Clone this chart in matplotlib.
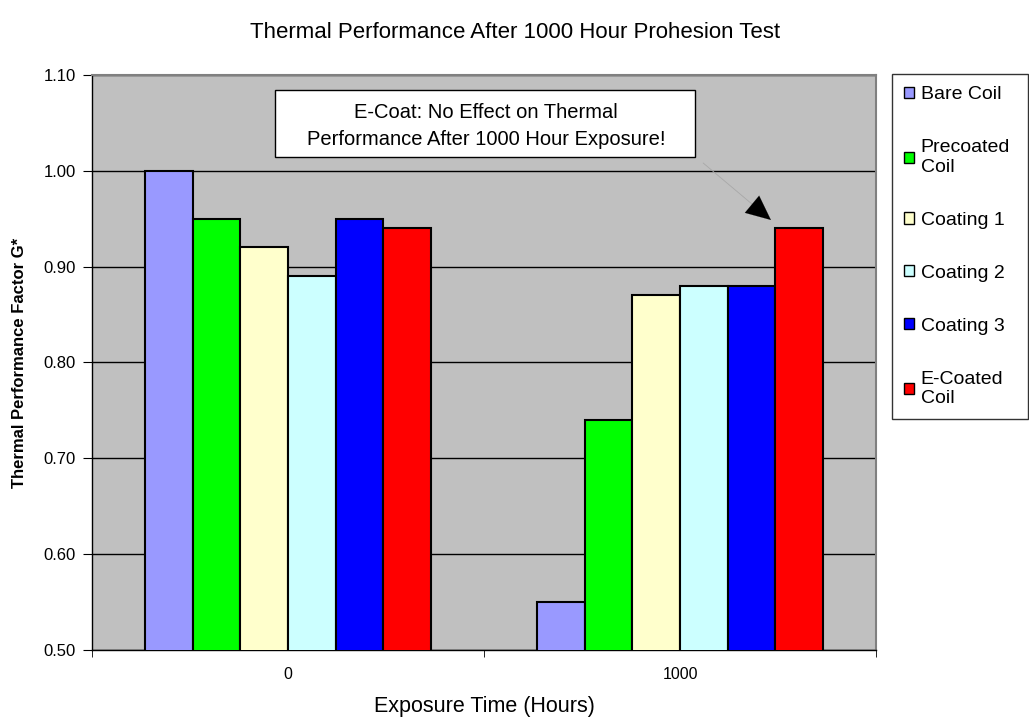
import matplotlib
matplotlib.use("Agg")
import matplotlib.pyplot as plt
from matplotlib.patches import Rectangle
import numpy as np

plt.rcParams['font.family'] = ['Liberation Sans', 'DejaVu Sans']

categories = ["0", "1000"]
series_names = ["Bare Coil", "Precoated\nCoil", "Coating 1", "Coating 2", "Coating 3", "E-Coated\nCoil"]
values = [
    [1.00, 0.55],
    [0.95, 0.74],
    [0.92, 0.87],
    [0.89, 0.88],
    [0.95, 0.88],
    [0.94, 0.94],
]
colors = ["#9999ff", "#00ff00", "#ffffcc", "#ccffff", "#0000ff", "#ff0000"]
yticks = [0.50, 0.60, 0.70, 0.80, 0.90, 1.00, 1.10]

fig = plt.figure(figsize=(10.29, 7.21), dpi=100)
ax = fig.add_axes([92/1029, 1-650/721, (876-92)/1029, (650-75)/721])
ax.set_facecolor("#c0c0c0")

n = len(series_names)
bw = 0.73 / n
x = np.arange(len(categories))
for i in range(n):
    ax.bar(x - 0.365 + bw*(i+0.5), values[i], width=bw, color=colors[i],
           edgecolor="black", linewidth=1.5, label=series_names[i], zorder=3)

ax.set_xlim(-0.5, 1.5)
ax.set_ylim(0.5, 1.1)
ax.set_yticks(yticks)
ax.set_yticklabels([f"{v:.2f}" for v in yticks], fontsize=12)
ax.yaxis.grid(True, color="black", linewidth=1, zorder=1)
ax.set_axisbelow(True)
ax.set_xticks(x)
ax.set_xticklabels(categories, fontsize=11.5)
ax.set_xticks([-0.5, 0.5, 1.5], minor=True)
ax.tick_params(axis='x', which='major', length=0, pad=12)
ax.tick_params(axis='x', which='minor', length=5, direction='out')
ax.tick_params(axis='y', length=6.5, direction='out', pad=5)
for s in ['left', 'bottom']:
    ax.spines[s].set_color('black')
    ax.spines[s].set_linewidth(1)
for s in ['top', 'right']:
    ax.spines[s].set_color('#808080')
    ax.spines[s].set_linewidth(1.5)

ax.set_ylabel("Thermal Performance Factor G*", fontsize=12, fontweight='bold', labelpad=12)
ax.set_xlabel("Exposure Time (Hours)", fontsize=15.5, labelpad=10)
fig.text(515/1029, 1-33/721, "Thermal Performance After 1000 Hour Prohesion Test",
         fontsize=16, ha='center', va='center')

# annotation box
ax.add_patch(Rectangle((-0.0332, 1.0144), 1.0715, 0.0699, facecolor='white',
                       edgecolor='black', linewidth=1, zorder=5))
ax.text(0.505, 1.0551, "E-Coat: No Effect on Thermal", fontsize=14.5,
        ha='center', va='baseline', zorder=6)
ax.text(0.505, 1.0270, "Performance After 1000 Hour Exposure!", fontsize=14.5,
        ha='center', va='baseline', zorder=6)

ax.annotate("", xy=(1.232, 0.9487), xytext=(1.059, 1.0082),
            arrowprops=dict(arrowstyle='-', color='#a8a8a8', lw=0.6, shrinkA=0, shrinkB=8),
            zorder=6)
ax.annotate("", xy=(1.232, 0.9487), xytext=(1.19, 0.963),
            arrowprops=dict(arrowstyle='-|>,head_length=1.1,head_width=0.5', color='black',
                            lw=0.1, mutation_scale=16, shrinkA=0, shrinkB=0),
            zorder=7)

leg = fig.legend(loc='upper left',
                 bbox_to_anchor=(892/1029, 1-75/721, (1028-892)/1029, 0.001),
                 mode='expand', fontsize=14,
                 frameon=True, fancybox=False, edgecolor='black', handlelength=0.5,
                 handleheight=0.5, handletextpad=0.35, labelspacing=1.85,
                 borderpad=0.62, borderaxespad=0)
leg.get_frame().set_linewidth(1)
for h in leg.legend_handles:
    h.set_linewidth(1)

fig.savefig("out.png", dpi=100)
